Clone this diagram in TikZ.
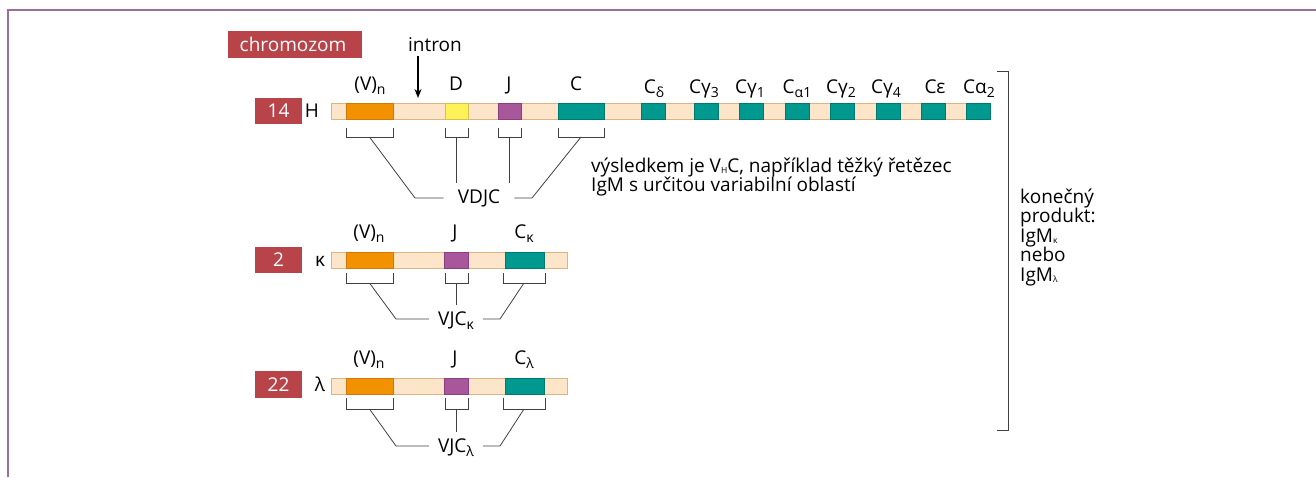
\documentclass[tikz,border=0pt]{standalone}
\usepackage{fontspec}
\setmainfont{Open Sans}
\usetikzlibrary{arrows.meta}
\definecolor{boxred}{HTML}{B8444A}
\definecolor{vfill}{HTML}{F39200}
\definecolor{vline}{HTML}{D2780A}
\definecolor{dfill}{HTML}{FFF159}
\definecolor{dline}{HTML}{D4C34A}
\definecolor{jfill}{HTML}{A8579B}
\definecolor{jline}{HTML}{8B3F80}
\definecolor{cfill}{HTML}{00998F}
\definecolor{cline}{HTML}{00786F}
\definecolor{barfill}{HTML}{FDE5C9}
\definecolor{barline}{HTML}{D9B586}
\definecolor{frame}{HTML}{9B6F9B}
\newcommand\sbs[1]{\raisebox{-0.4ex}{\fontsize{14}{14}\selectfont #1}}
\newcommand\tinysb[1]{\raisebox{-1.5pt}{\fontsize{8.5}{8.5}\selectfont #1}}
\tikzset{
  txt/.style={font=\fontsize{19}{21}\selectfont, inner sep=0pt, anchor=base},
  chrom/.style={fill=boxred, text=white, inner sep=0pt, font=\fontsize{19}{21}\selectfont},
  barbox/.style={fill=barfill, draw=barline, line width=1pt, inner sep=0pt, anchor=north west, minimum height=16pt},
  segbox/.style={line width=1.2pt, inner sep=0pt, anchor=north west, minimum height=16pt},
  vseg/.style={segbox, fill=vfill, draw=vline},
  dseg/.style={segbox, fill=dfill, draw=dline},
  jseg/.style={segbox, fill=jfill, draw=jline},
  cseg/.style={segbox, fill=cfill, draw=cline},
  brk/.style={line width=0.9pt, draw=black!75},
  conn/.style={line width=0.8pt, draw=black!75},
}
\begin{document}
\begin{tikzpicture}[x=1pt,y=-1pt]
\useasboundingbox (0,0) rectangle (1316,477);
% frame
\draw[frame, line width=1.3pt] (8,477) -- (8,10) -- (1316,10);

% chromozom label
\node[chrom, minimum width=134pt, minimum height=27pt, anchor=north west] (chrom) at (228,31) {};
\node[txt, text=white] (chromt) at (293,51) {chromozom};

% intron
\node[txt] (intron) at (435,51) {intron};
\draw[-{Stealth[length=9pt,width=7pt]}, line width=1.2pt] (intron.south -| 418,0) ++(0,5) -- (418,98);

% ===== row H =====
\node[chrom, minimum width=47pt, minimum height=26pt, anchor=north west] (n14) at (255,98) {};
\node[txt, text=white] at (278.5,117.5) {14};
\node[txt] (lH) at (312,117.5) {H};
\node[barbox, minimum width=659pt] (barH) at (331,103) {};
\node[vseg, minimum width=47pt] (V14) at (346,103) {};
\node[dseg, minimum width=23pt] (D14) at (445,103) {};
\node[jseg, minimum width=23pt] (J14) at (498,103) {};
\node[cseg, minimum width=46pt] (C14) at (558,103) {};
\node[cseg, minimum width=24pt] (Cd) at (641,103) {};
\node[cseg, minimum width=24pt] (Cg3) at (694,103) {};
\node[cseg, minimum width=24pt] (Cg1) at (739,103) {};
\node[cseg, minimum width=24pt] (Ca1) at (785,103) {};
\node[cseg, minimum width=24pt] (Cg2) at (830,103) {};
\node[cseg, minimum width=24pt] (Cg4) at (876,103) {};
\node[cseg, minimum width=24pt] (Ce) at (921,103) {};
\node[cseg, minimum width=24pt] (Ca2) at (966,103) {};

\node[txt] at (370,90) {(V)\sbs{n}};
\node[txt] at (456,90) {D};
\node[txt] at (509,90) {J};
\node[txt] at (576,90) {C};
\node[txt] at (654,93) {C\sbs{δ}};
\node[txt] at (704,93) {Cγ\sbs{3}};
\node[txt] at (750,93) {Cγ\sbs{1}};
\node[txt] at (797,93) {C\sbs{α1}};
\node[txt] at (841,93) {Cγ\sbs{2}};
\node[txt] at (886,93) {Cγ\sbs{4}};
\node[txt] at (935,93) {Cε};
\node[txt] at (979,93) {Cα\sbs{2}};

% brackets H
\draw[brk] (346,128) -- (346,137) -- (393,137) -- (393,128);
\draw[brk] (445,128) -- (445,137) -- (468,137) -- (468,128);
\draw[brk] (498,128) -- (498,137) -- (521,137) -- (521,128);
\draw[brk] (558,128) -- (558,137) -- (604,137) -- (604,128);
\coordinate (bV14) at (369.5,137);
\coordinate (bD14) at (456.5,137);
\coordinate (bJ14) at (509.5,137);
\coordinate (bC14) at (581,137);
\node[txt, inner xsep=14pt] (VDJC) at (479,203) {VDJC};
\draw[conn] (bV14) -- (415,198) -- (VDJC.west |- 0,198);
\draw[conn] (bC14) -- (532,198) -- (VDJC.east |- 0,198);
\draw[conn] (bD14) -- (456.5,183);
\draw[conn] (bJ14) -- (509.5,183);

\node[txt, anchor=base west] (res1) at (591,172) {výsledkem je V\tinysb{H}C, například těžký řetězec};
\node[txt, anchor=base west] (res2) at (591,191) {IgM s určitou variabilní oblastí};

% ===== row kappa =====
\node[chrom, minimum width=47pt, minimum height=26pt, anchor=north west] (n2) at (255,247) {};
\node[txt, text=white] at (278.5,266.5) {2};
\node[txt] (lk) at (320,266.5) {κ};
\node[barbox, minimum width=236pt] (barK) at (331,252) {};
\node[vseg, minimum width=47pt] (VK) at (346,252) {};
\node[jseg, minimum width=24pt] (JK) at (444,252) {};
\node[cseg, minimum width=39pt] (CK) at (505,252) {};
\node[txt] at (369,238) {(V)\sbs{n}};
\node[txt] at (455,238) {J};
\node[txt] at (524,238) {C\sbs{κ}};
\draw[brk] (346,273) -- (346,283) -- (393,283) -- (393,273);
\draw[brk] (445,273) -- (445,283) -- (468,283) -- (468,273);
\draw[brk] (503,273) -- (503,283) -- (545,283) -- (545,273);
\coordinate (bVK) at (369.5,283);
\coordinate (bJK) at (456.5,283);
\coordinate (bCK) at (524,283);
\node[txt, inner xsep=9pt] (VJCK) at (456,325) {VJC\sbs{κ}};
\draw[conn] (bVK) -- (396,319) -- (VJCK.west |- 0,319);
\draw[conn] (bCK) -- (500,319) -- (VJCK.east |- 0,319);
\draw[conn] (bJK) -- (456.5,305);

% ===== row lambda =====
\node[chrom, minimum width=47pt, minimum height=27pt, anchor=north west] (n22) at (255,371) {};
\node[txt, text=white] at (278.5,391) {22};
\node[txt] (ll) at (320,391) {λ};
\node[barbox, minimum width=236pt] (barL) at (331,378) {};
\node[vseg, minimum width=47pt] (VL) at (346,378) {};
\node[jseg, minimum width=24pt] (JL) at (444,378) {};
\node[cseg, minimum width=39pt] (CL) at (505,378) {};
\node[txt] at (369,364) {(V)\sbs{n}};
\node[txt] at (455,364) {J};
\node[txt] at (524,364) {C\sbs{λ}};
\draw[brk] (346,398) -- (346,409) -- (393,409) -- (393,398);
\draw[brk] (445,398) -- (445,409) -- (468,409) -- (468,398);
\draw[brk] (503,398) -- (503,409) -- (545,409) -- (545,398);
\coordinate (bVL) at (369.5,409);
\coordinate (bJL) at (456.5,409);
\coordinate (bCL) at (524,409);
\node[txt, inner xsep=9pt] (VJCL) at (456,452) {VJC\sbs{λ}};
\draw[conn] (bVL) -- (396,446) -- (VJCL.west |- 0,446);
\draw[conn] (bCL) -- (500,446) -- (VJCL.east |- 0,446);
\draw[conn] (bJL) -- (456.5,432);

% right bracket and final product
\draw[brk] (997,71) -- (1008,71) -- (1008,430) -- (997,430);
\node[txt, anchor=base west] (p1) at (1020,203) {konečný};
\node[txt, anchor=base west] (p2) at (1020,222.5) {produkt:};
\node[txt, anchor=base west] (p3) at (1020,242) {IgM\tinysb{κ}};
\node[txt, anchor=base west] (p4) at (1020,261.5) {nebo};
\node[txt, anchor=base west] (p5) at (1020,281) {IgM\tinysb{λ}};
\end{tikzpicture}
\end{document}
